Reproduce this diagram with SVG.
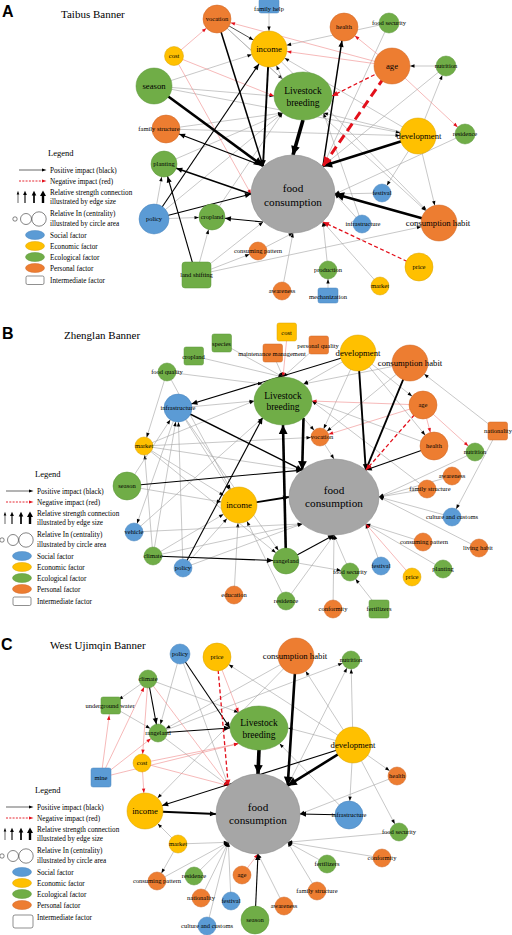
<svg xmlns="http://www.w3.org/2000/svg" width="512" height="935" viewBox="0 0 512 935">
<defs>
<style>
.g{stroke:#a3a3a3;stroke-width:.6;fill:none}
.k0{stroke:#222;stroke-width:.8}
.k1{stroke:#000;stroke-width:1.1}
.k15{stroke:#000;stroke-width:1.5}
.k2{stroke:#000;stroke-width:1.9}
.k3{stroke:#000;stroke-width:2.6}
.k4{stroke:#000;stroke-width:3.6}
.p{stroke:#f08a8a;stroke-width:.6}
.rd{stroke:#e3101b;stroke-width:1.3;stroke-dasharray:4 2.5}
.rd3{stroke:#e3101b;stroke-width:3;stroke-dasharray:9 5}
.bl{fill:#5b9bd5;stroke:#4a85bd;stroke-width:.5}
.ye{fill:#ffc000;stroke:#d8a200;stroke-width:.5}
.gr{fill:#70ad47;stroke:#5a9438;stroke-width:.5}
.or{fill:#ed7d31;stroke:#cf6626;stroke-width:.5}
.fc{fill:#a6a6a6;stroke:#8a8a8a;stroke-width:.6}
.lc{fill:#fff;stroke:#333;stroke-width:.6}
.lr{fill:#fff;stroke:#444;stroke-width:.6}
text{font-family:"Liberation Serif","Times New Roman",serif;fill:#000}
.t{font-size:6.5px;text-anchor:middle}
.tb{font-size:8.7px;text-anchor:middle}
.tl{font-size:9.5px;text-anchor:middle}
.tf{font-size:11.2px;text-anchor:middle}
.lg{font-size:7.2px}
.lh{font-size:8.5px}
.ttl{font-size:11px}
.pl{font-family:"Liberation Sans",Arial,sans-serif;font-weight:bold;font-size:16px}
</style>
<path id="hs" d="M-4.5-1.7L0 0L-4.5 1.7z"/>
<path id="hm" d="M-6-2.6L0 0L-6 2.6z"/>
<path id="hl" d="M-9-4.4L0 0L-9 4.4z"/>
<path id="hrs" d="M-4.5-1.7L0 0L-4.5 1.7z" fill="#e3101b"/>
<path id="hrm" d="M-6-2.6L0 0L-6 2.6z" fill="#e3101b"/>
<path id="hrl" d="M-9-4.4L0 0L-9 4.4z" fill="#e3101b"/>
<marker id="s0" viewBox="-10 -5 40 10" markerWidth="40" markerHeight="10" markerUnits="userSpaceOnUse" orient="auto" refX="0"><use href="#hs"/></marker>
<marker id="s9" viewBox="-10 -5 40 10" markerWidth="40" markerHeight="10" markerUnits="userSpaceOnUse" orient="auto" refX="9"><use href="#hs"/></marker>
<marker id="s10" viewBox="-10 -5 40 10" markerWidth="40" markerHeight="10" markerUnits="userSpaceOnUse" orient="auto" refX="10"><use href="#hs"/></marker>
<marker id="s13" viewBox="-10 -5 40 10" markerWidth="40" markerHeight="10" markerUnits="userSpaceOnUse" orient="auto" refX="13"><use href="#hs"/></marker>
<marker id="s14" viewBox="-10 -5 40 10" markerWidth="40" markerHeight="10" markerUnits="userSpaceOnUse" orient="auto" refX="14"><use href="#hs"/></marker>
<marker id="s18" viewBox="-10 -5 40 10" markerWidth="40" markerHeight="10" markerUnits="userSpaceOnUse" orient="auto" refX="18"><use href="#hs"/></marker>
<marker id="m0" viewBox="-10 -5 40 10" markerWidth="40" markerHeight="10" markerUnits="userSpaceOnUse" orient="auto" refX="0"><use href="#hm"/></marker>
<marker id="m9" viewBox="-10 -5 40 10" markerWidth="40" markerHeight="10" markerUnits="userSpaceOnUse" orient="auto" refX="9"><use href="#hm"/></marker>
<marker id="m13" viewBox="-10 -5 40 10" markerWidth="40" markerHeight="10" markerUnits="userSpaceOnUse" orient="auto" refX="13"><use href="#hm"/></marker>
<marker id="m14" viewBox="-10 -5 40 10" markerWidth="40" markerHeight="10" markerUnits="userSpaceOnUse" orient="auto" refX="14"><use href="#hm"/></marker>
<marker id="m18" viewBox="-10 -5 40 10" markerWidth="40" markerHeight="10" markerUnits="userSpaceOnUse" orient="auto" refX="18"><use href="#hm"/></marker>
<marker id="l0" viewBox="-10 -5 40 10" markerWidth="40" markerHeight="10" markerUnits="userSpaceOnUse" orient="auto" refX="0"><use href="#hl"/></marker>
<marker id="rs0" viewBox="-10 -5 40 10" markerWidth="40" markerHeight="10" markerUnits="userSpaceOnUse" orient="auto" refX="0"><use href="#hrs"/></marker>
<marker id="rs9" viewBox="-10 -5 40 10" markerWidth="40" markerHeight="10" markerUnits="userSpaceOnUse" orient="auto" refX="9"><use href="#hrs"/></marker>
<marker id="rs10" viewBox="-10 -5 40 10" markerWidth="40" markerHeight="10" markerUnits="userSpaceOnUse" orient="auto" refX="10"><use href="#hrs"/></marker>
<marker id="rs14" viewBox="-10 -5 40 10" markerWidth="40" markerHeight="10" markerUnits="userSpaceOnUse" orient="auto" refX="14"><use href="#hrs"/></marker>
<marker id="rs18" viewBox="-10 -5 40 10" markerWidth="40" markerHeight="10" markerUnits="userSpaceOnUse" orient="auto" refX="18"><use href="#hrs"/></marker>
<marker id="rm0" viewBox="-10 -5 40 10" markerWidth="40" markerHeight="10" markerUnits="userSpaceOnUse" orient="auto" refX="0"><use href="#hrm"/></marker>
<marker id="rl0" viewBox="-10 -5 40 10" markerWidth="40" markerHeight="10" markerUnits="userSpaceOnUse" orient="auto" refX="0"><use href="#hrl"/></marker>
</defs>
<rect width="512" height="935" fill="#fff"/>

<!-- ===================== PANEL A ===================== -->
<g id="panelA">
<text x="2" y="17" class="pl">A</text>
<text x="61" y="17.5" class="ttl">Taibus Banner</text>
<g id="A-legend">
<text x="48" y="156" class="lh">Legend</text>
<line x1="19" y1="170" x2="43" y2="170" stroke="#000" stroke-width=".6"/><path d="M42 168.4L46.5 170L42 171.6z"/>
<text x="50" y="172.5" class="lg">Positive impact (black)</text>
<line x1="19" y1="181" x2="43" y2="181" stroke="#e3101b" stroke-width=".9" stroke-dasharray="2 1.3"/><path d="M42 179.4L46.5 181L42 182.6z" fill="#e3101b"/>
<text x="50" y="183.5" class="lg">Negative impact (red)</text>
<path d="M18 203V194" stroke="#000" stroke-width=".6"/><path d="M16.7 194.5L18 190.8L19.3 194.5z"/>
<path d="M25 203V194.5" stroke="#000" stroke-width="1.1"/><path d="M23.1 195L25 190.8L26.9 195z"/>
<path d="M34 203V195" stroke="#000" stroke-width="1.7"/><path d="M31.7 195.5L34 190.8L36.3 195.5z"/>
<path d="M43 203V195.5" stroke="#000" stroke-width="2.4"/><path d="M40 196L43 190.5L46 196z"/>
<text x="50" y="195" class="lg">Relative strength connection</text>
<text x="50" y="204" class="lg">illustrated by edge size</text>
<circle cx="15" cy="219" r="2.2" class="lc"/><circle cx="26" cy="219" r="5.5" class="lc"/><circle cx="39" cy="219" r="7.2" class="lc"/>
<text x="50" y="215.5" class="lg">Relative In (centrality)</text>
<text x="50" y="225.5" class="lg">illustrated by circle area</text>
<ellipse cx="35" cy="235" rx="9.5" ry="4.5" class="bl"/><text x="50" y="237.5" class="lg">Social factor</text>
<ellipse cx="35" cy="246" rx="9.5" ry="4.5" class="ye"/><text x="50" y="248.5" class="lg">Economic factor</text>
<ellipse cx="35" cy="257" rx="9.5" ry="4.5" class="gr"/><text x="50" y="259.5" class="lg">Ecological factor</text>
<ellipse cx="35" cy="268" rx="9.5" ry="4.5" class="or"/><text x="50" y="270.5" class="lg">Personal factor</text>
<rect x="26" y="276" width="18" height="8.5" rx="1.5" class="lr"/><text x="50" y="282.5" class="lg">Intermediate factor</text>
</g>
<g id="A-connectors">
<line x1="269" y1="6" x2="269" y2="49" class="g" marker-end="url(#s18)"/>
<line x1="154" y1="86" x2="269" y2="49" class="g" marker-end="url(#s18)"/>
<line x1="154" y1="86" x2="274" y2="96" class="g" marker-end="url(#s0)"/>
<line x1="154" y1="86" x2="418" y2="136" class="g" marker-end="url(#s18)"/>
<line x1="389" y1="23" x2="269" y2="49" class="g" marker-end="url(#s18)"/>
<line x1="446" y1="66" x2="392" y2="66" class="g" marker-end="url(#s18)"/>
<line x1="418" y1="136" x2="446" y2="66" class="g" marker-end="url(#s10)"/>
<line x1="418" y1="136" x2="269" y2="49" class="g" marker-end="url(#s18)"/>
<line x1="418" y1="136" x2="439" y2="223" class="g" marker-end="url(#s18)"/>
<line x1="418" y1="136" x2="382" y2="193" class="g" marker-end="url(#s9)"/>
<line x1="465" y1="134" x2="335" y2="194" class="g" marker-end="url(#s0)"/>
<line x1="382" y1="193" x2="335" y2="194" class="g" marker-end="url(#s0)"/>
<line x1="362" y1="224" x2="335" y2="194" class="g" marker-end="url(#s0)"/>
<line x1="380" y1="286" x2="323" y2="222" class="g" marker-end="url(#s0)"/>
<line x1="328" y1="270" x2="323" y2="222" class="g" marker-end="url(#s0)"/>
<line x1="328" y1="295" x2="328" y2="270" class="g" marker-end="url(#s9)"/>
<line x1="282" y1="291" x2="293" y2="233" class="g" marker-end="url(#s0)"/>
<line x1="258" y1="251" x2="293" y2="233" class="g" marker-end="url(#s0)"/>
<line x1="196" y1="275" x2="212" y2="217" class="g" marker-end="url(#s13)"/>
<line x1="196" y1="275" x2="258" y2="251" class="g" marker-end="url(#s9)"/>
<line x1="196" y1="275" x2="439" y2="223" class="g" marker-end="url(#s18)"/>
<line x1="154" y1="219" x2="212" y2="217" class="g" marker-end="url(#s13)"/>
<line x1="154" y1="219" x2="164" y2="164" class="g" marker-end="url(#s13)"/>
<line x1="164" y1="164" x2="282.5" y2="113" class="g" marker-end="url(#s0)"/>
<line x1="212" y1="217" x2="282.5" y2="113" class="g" marker-end="url(#s0)"/>
<line x1="217" y1="19" x2="282.5" y2="79" class="g" marker-end="url(#s0)"/>
<line x1="166" y1="129" x2="282.5" y2="113" class="g" marker-end="url(#s0)"/>
<line x1="166" y1="129" x2="418" y2="136" class="g" marker-end="url(#s18)"/>
<line x1="389" y1="23" x2="323" y2="166" class="g" marker-end="url(#s0)"/>
<line x1="446" y1="66" x2="323" y2="166" class="g" marker-end="url(#s0)"/>
<line x1="418" y1="136" x2="323.5" y2="113" class="g" marker-end="url(#s0)"/>
<line x1="282.5" y1="79" x2="269" y2="49" class="g" marker-end="url(#s18)"/>
<line x1="217" y1="19" x2="439" y2="223" class="g" marker-end="url(#s18)"/>
<line x1="362" y1="224" x2="323.5" y2="113" class="g" marker-end="url(#s0)"/>
<line x1="269" y1="49" x2="439" y2="223" class="g" marker-end="url(#s18)"/>
<line x1="154" y1="219" x2="282.5" y2="113" class="g" marker-end="url(#s0)"/>
<line x1="196" y1="275" x2="263" y2="222" class="g" marker-end="url(#s0)"/>
<line x1="174" y1="56" x2="217" y2="19" class="p" marker-end="url(#rs14)"/>
<line x1="174" y1="56" x2="251" y2="194" class="p" marker-end="url(#rs0)"/>
<line x1="174" y1="56" x2="274" y2="96" class="p" marker-end="url(#rs0)"/>
<line x1="392" y1="66" x2="269" y2="49" class="p" marker-end="url(#rs18)"/>
<line x1="392" y1="66" x2="217" y2="19" class="p" marker-end="url(#rs14)"/>
<line x1="392" y1="66" x2="465" y2="134" class="p" marker-end="url(#rs10)"/>
<line x1="392" y1="66" x2="344" y2="27" class="p" marker-end="url(#rs14)"/>
<line x1="217" y1="19" x2="269" y2="49" class="k0" marker-end="url(#s18)"/>
<line x1="196" y1="275" x2="164" y2="164" class="k1" marker-end="url(#m13)"/>
<line x1="154" y1="219" x2="269" y2="49" class="k1" marker-end="url(#m18)"/>
<line x1="263" y1="222" x2="212" y2="217" class="k1" marker-end="url(#m13)"/>
<line x1="263" y1="166" x2="166" y2="129" class="k1" marker-end="url(#m14)"/>
<line x1="154" y1="219" x2="251" y2="194" class="k1" marker-end="url(#m0)"/>
<line x1="251" y1="194" x2="164" y2="164" class="k15" marker-end="url(#m13)"/>
<line x1="323" y1="166" x2="344" y2="27" class="k15" marker-end="url(#m14)"/>
<line x1="217" y1="19" x2="263" y2="166" class="k15" marker-end="url(#m0)"/>
<line x1="269" y1="49" x2="263" y2="166" class="k2" marker-end="url(#m0)"/>
<line x1="154" y1="86" x2="263" y2="166" class="k3" marker-end="url(#l0)"/>
<line x1="418" y1="136" x2="323" y2="166" class="k3" marker-end="url(#l0)"/>
<line x1="439" y1="223" x2="335" y2="194" class="k3" marker-end="url(#l0)"/>
<line x1="303" y1="120" x2="293" y2="155" class="k4" marker-end="url(#l0)"/>
<line x1="392" y1="66" x2="332" y2="96" class="rd" marker-end="url(#rm0)"/>
<line x1="419" y1="267" x2="323" y2="222" class="rd" marker-end="url(#rm0)"/>
<line x1="392" y1="66" x2="323" y2="166" class="rd3" marker-end="url(#rl0)"/>
</g>
<g id="A-vocation"><circle cx="217" cy="19" r="14" class="or"/><text x="217" y="21.2" class="t">vocation</text></g>
<g id="A-cost"><circle cx="174" cy="56" r="9.5" class="ye"/><text x="174" y="58.2" class="t">cost</text></g>
<g id="A-season"><circle cx="154" cy="86" r="18" class="gr"/><text x="154" y="89" class="tb">season</text></g>
<g id="A-family-structure"><circle cx="166" cy="129" r="14" class="or"/><text x="159" y="131.2" class="t">family structure</text></g>
<g id="A-family-help"><rect x="259" y="-1" width="20" height="14" rx="2" class="bl"/><text x="269" y="11" class="t">family help</text></g>
<g id="A-income"><circle cx="269" cy="49" r="18" class="ye"/><text x="269" y="52" class="tb">income</text></g>
<g id="A-health"><circle cx="344" cy="27" r="14" class="or"/><text x="344" y="29.2" class="t">health</text></g>
<g id="A-food-security"><circle cx="389" cy="23" r="10" class="gr"/><text x="389" y="25.2" class="t">food security</text></g>
<g id="A-age"><circle cx="392" cy="66" r="18" class="or"/><text x="392" y="69" class="tb">age</text></g>
<g id="A-nutrition"><circle cx="446" cy="66" r="10" class="gr"/><text x="446" y="68.2" class="t">nutrition</text></g>
<g id="A-livestock"><ellipse cx="303" cy="96" rx="29" ry="24" class="gr"/><text x="303" y="94" class="tl">Livestock</text><text x="303" y="105.5" class="tl">breeding</text></g>
<g id="A-development"><circle cx="418" cy="136" r="18" class="ye"/><text x="419" y="139" class="tb">development</text></g>
<g id="A-residence"><circle cx="465" cy="134" r="10" class="gr"/><text x="465" y="136.2" class="t">residence</text></g>
<g id="A-food-consumption"><ellipse cx="293" cy="194" rx="42" ry="39" class="fc"/><text x="293" y="192" class="tf">food</text><text x="293" y="205.5" class="tf">consumption</text></g>
<g id="A-festival"><circle cx="382" cy="193" r="9" class="bl"/><text x="382" y="195.2" class="t">festival</text></g>
<g id="A-infrastructure"><circle cx="362" cy="224" r="9" class="bl"/><text x="363" y="226.2" class="t">infrastructure</text></g>
<g id="A-consumption-habit"><circle cx="439" cy="223" r="18" class="or"/><text x="438" y="226" class="tb">consumption habit</text></g>
<g id="A-price"><circle cx="419" cy="267" r="14" class="ye"/><text x="419" y="269.2" class="t">price</text></g>
<g id="A-market"><circle cx="380" cy="286" r="9" class="ye"/><text x="380" y="288.2" class="t">market</text></g>
<g id="A-production"><circle cx="328" cy="270" r="9" class="gr"/><text x="328" y="272.2" class="t">production</text></g>
<g id="A-mechanization"><rect x="318" y="288" width="20" height="15" rx="2" class="bl"/><text x="328" y="298.5" class="t">mechanization</text></g>
<g id="A-awareness"><circle cx="282" cy="291" r="9" class="or"/><text x="282" y="293.2" class="t">awareness</text></g>
<g id="A-consuming-pattern"><circle cx="258" cy="251" r="9" class="or"/><text x="258" y="253.2" class="t">consuming pattern</text></g>
<g id="A-land-shifting"><rect x="182" y="262" width="29" height="26" rx="3" class="gr"/><text x="196.5" y="277" class="t">land shifting</text></g>
<g id="A-cropland"><circle cx="212" cy="217" r="13" class="gr"/><text x="212" y="219.2" class="t">cropland</text></g>
<g id="A-policy"><circle cx="154" cy="219" r="15" class="bl"/><text x="154" y="221.2" class="t">policy</text></g>
<g id="A-planting"><circle cx="164" cy="164" r="13" class="gr"/><text x="164" y="166.2" class="t">planting</text></g>
</g>

<!-- ===================== PANEL B ===================== -->
<g id="panelB">
<text x="2" y="339" class="pl">B</text>
<text x="64" y="339" class="ttl">Zhenglan Banner</text>
<g id="B-legend" transform="translate(-13,321)">
<text x="48" y="156" class="lh">Legend</text>
<line x1="19" y1="170" x2="43" y2="170" stroke="#000" stroke-width=".6"/><path d="M42 168.4L46.5 170L42 171.6z"/>
<text x="50" y="172.5" class="lg">Positive impact (black)</text>
<line x1="19" y1="181" x2="43" y2="181" stroke="#e3101b" stroke-width=".9" stroke-dasharray="2 1.3"/><path d="M42 179.4L46.5 181L42 182.6z" fill="#e3101b"/>
<text x="50" y="183.5" class="lg">Negative impact (red)</text>
<path d="M18 203V194" stroke="#000" stroke-width=".6"/><path d="M16.7 194.5L18 190.8L19.3 194.5z"/>
<path d="M25 203V194.5" stroke="#000" stroke-width="1.1"/><path d="M23.1 195L25 190.8L26.9 195z"/>
<path d="M34 203V195" stroke="#000" stroke-width="1.7"/><path d="M31.7 195.5L34 190.8L36.3 195.5z"/>
<path d="M43 203V195.5" stroke="#000" stroke-width="2.4"/><path d="M40 196L43 190.5L46 196z"/>
<text x="50" y="195" class="lg">Relative strength connection</text>
<text x="50" y="204" class="lg">illustrated by edge size</text>
<circle cx="15" cy="219" r="2.2" class="lc"/><circle cx="26" cy="219" r="5.5" class="lc"/><circle cx="39" cy="219" r="7.2" class="lc"/>
<text x="50" y="215.5" class="lg">Relative In (centrality)</text>
<text x="50" y="225.5" class="lg">illustrated by circle area</text>
<ellipse cx="35" cy="235" rx="9.5" ry="4.5" class="bl"/><text x="50" y="237.5" class="lg">Social factor</text>
<ellipse cx="35" cy="246" rx="9.5" ry="4.5" class="ye"/><text x="50" y="248.5" class="lg">Economic factor</text>
<ellipse cx="35" cy="257" rx="9.5" ry="4.5" class="gr"/><text x="50" y="259.5" class="lg">Ecological factor</text>
<ellipse cx="35" cy="268" rx="9.5" ry="4.5" class="or"/><text x="50" y="270.5" class="lg">Personal factor</text>
<rect x="26" y="276" width="18" height="8.5" rx="1.5" class="lr"/><text x="50" y="282.5" class="lg">Intermediate factor</text>
</g>
<g id="B-connectors">
<line x1="221.5" y1="343" x2="283" y2="377" class="g" marker-end="url(#s0)"/>
<line x1="193.5" y1="356" x2="283" y2="377" class="g" marker-end="url(#s0)"/>
<line x1="272.5" y1="353" x2="283" y2="377" class="g" marker-end="url(#s0)"/>
<line x1="318.5" y1="345" x2="283" y2="377" class="g" marker-end="url(#s0)"/>
<line x1="167" y1="372" x2="144" y2="446" class="g" marker-end="url(#s9)"/>
<line x1="167" y1="372" x2="262.5" y2="384" class="g" marker-end="url(#s0)"/>
<line x1="167" y1="372" x2="239" y2="505" class="g" marker-end="url(#s18)"/>
<line x1="358" y1="353" x2="423" y2="405" class="g" marker-end="url(#s14)"/>
<line x1="497.5" y1="431" x2="410" y2="363" class="g" marker-end="url(#s18)"/>
<line x1="497.5" y1="431" x2="452" y2="517" class="g" marker-end="url(#s9)"/>
<line x1="144" y1="446" x2="302.2" y2="470.1" class="g" marker-end="url(#s0)"/>
<line x1="144" y1="446" x2="320" y2="437" class="g" marker-end="url(#s9)"/>
<line x1="144" y1="446" x2="239" y2="505" class="g" marker-end="url(#s18)"/>
<line x1="153" y1="556" x2="178" y2="408" class="g" marker-end="url(#s14)"/>
<line x1="153" y1="556" x2="144" y2="446" class="g" marker-end="url(#s9)"/>
<line x1="183" y1="568" x2="178" y2="408" class="g" marker-end="url(#s14)"/>
<line x1="178" y1="408" x2="134" y2="532" class="g" marker-end="url(#s9)"/>
<line x1="127" y1="486" x2="239" y2="505" class="g" marker-end="url(#s18)"/>
<line x1="127" y1="486" x2="178" y2="408" class="g" marker-end="url(#s14)"/>
<line x1="234" y1="595" x2="239" y2="505" class="g" marker-end="url(#s18)"/>
<line x1="286" y1="601" x2="239" y2="505" class="g" marker-end="url(#s18)"/>
<line x1="286" y1="601" x2="334" y2="535" class="g" marker-end="url(#s0)"/>
<line x1="333" y1="609" x2="334" y2="535" class="g" marker-end="url(#s0)"/>
<line x1="379" y1="609" x2="350" y2="572" class="g" marker-end="url(#s9)"/>
<line x1="350" y1="572" x2="334" y2="535" class="g" marker-end="url(#s0)"/>
<line x1="381" y1="566" x2="365.8" y2="523.9" class="g" marker-end="url(#s0)"/>
<line x1="443" y1="569" x2="365.8" y2="523.9" class="g" marker-end="url(#s0)"/>
<line x1="423" y1="542" x2="365.8" y2="523.9" class="g" marker-end="url(#s0)"/>
<line x1="479" y1="548" x2="379" y2="497" class="g" marker-end="url(#s0)"/>
<line x1="452" y1="517" x2="379" y2="497" class="g" marker-end="url(#s0)"/>
<line x1="427" y1="489" x2="379" y2="497" class="g" marker-end="url(#s0)"/>
<line x1="452" y1="476" x2="379" y2="497" class="g" marker-end="url(#s0)"/>
<line x1="475" y1="452" x2="379" y2="497" class="g" marker-end="url(#s0)"/>
<line x1="320" y1="437" x2="334" y2="459" class="g" marker-end="url(#s0)"/>
<line x1="358" y1="353" x2="320" y2="437" class="g" marker-end="url(#s9)"/>
<line x1="303.5" y1="418" x2="320" y2="437" class="g" marker-end="url(#s9)"/>
<line x1="358" y1="353" x2="303.5" y2="384" class="g" marker-end="url(#s0)"/>
<line x1="183" y1="568" x2="239" y2="505" class="g" marker-end="url(#s18)"/>
<line x1="183" y1="568" x2="302.2" y2="523.9" class="g" marker-end="url(#s0)"/>
<line x1="134" y1="532" x2="302.2" y2="523.9" class="g" marker-end="url(#s0)"/>
<line x1="286" y1="561" x2="350" y2="572" class="g" marker-end="url(#s9)"/>
<line x1="178" y1="408" x2="254" y2="401" class="g" marker-end="url(#s0)"/>
<line x1="144" y1="446" x2="254" y2="401" class="g" marker-end="url(#s0)"/>
<line x1="153" y1="556" x2="239" y2="505" class="g" marker-end="url(#s18)"/>
<line x1="134" y1="532" x2="262.5" y2="418" class="g" marker-end="url(#s0)"/>
<line x1="434" y1="446" x2="312" y2="401" class="g" marker-end="url(#s0)"/>
<line x1="410" y1="363" x2="303.5" y2="384" class="g" marker-end="url(#s0)"/>
<line x1="427" y1="489" x2="312" y2="401" class="g" marker-end="url(#s0)"/>
<line x1="410" y1="363" x2="320" y2="437" class="g" marker-end="url(#s9)"/>
<line x1="178" y1="408" x2="239" y2="505" class="g" marker-end="url(#s18)"/>
<line x1="358" y1="353" x2="434" y2="446" class="g" marker-end="url(#s14)"/>
<line x1="144" y1="446" x2="286" y2="561" class="g" marker-end="url(#s13)"/>
<line x1="178" y1="408" x2="286" y2="561" class="g" marker-end="url(#s13)"/>
<line x1="153" y1="556" x2="302.2" y2="523.9" class="g" marker-end="url(#s0)"/>
<line x1="423" y1="405" x2="434" y2="446" class="p" marker-end="url(#rs14)"/>
<line x1="423" y1="405" x2="475" y2="452" class="p" marker-end="url(#rs9)"/>
<line x1="423" y1="405" x2="312" y2="401" class="p" marker-end="url(#rs0)"/>
<line x1="423" y1="405" x2="320" y2="437" class="p" marker-end="url(#rs9)"/>
<line x1="286.5" y1="341" x2="283" y2="377" class="p" marker-end="url(#rs0)"/>
<line x1="412" y1="577" x2="365.8" y2="523.9" class="p" marker-end="url(#rs0)"/>
<line x1="358" y1="353" x2="178" y2="408" class="k1" marker-end="url(#m14)"/>
<line x1="178" y1="408" x2="302.2" y2="470.1" class="k15" marker-end="url(#m0)"/>
<line x1="127" y1="486" x2="302.2" y2="470.1" class="k1" marker-end="url(#m0)"/>
<line x1="239" y1="505" x2="289" y2="497" class="k2" marker-end="url(#m0)"/>
<line x1="286" y1="561" x2="334" y2="535" class="k1" marker-end="url(#m0)"/>
<line x1="153" y1="556" x2="286" y2="561" class="k1" marker-end="url(#m13)"/>
<line x1="183" y1="568" x2="262.5" y2="418" class="k1" marker-end="url(#m0)"/>
<line x1="434" y1="446" x2="365.8" y2="470.1" class="k1" marker-end="url(#m0)"/>
<line x1="358" y1="353" x2="365.8" y2="470.1" class="k2" marker-end="url(#m0)"/>
<line x1="410" y1="363" x2="365.8" y2="470.1" class="k2" marker-end="url(#m0)"/>
<line x1="286" y1="561" x2="283" y2="425" class="k3" marker-end="url(#l0)"/>
<line x1="303.5" y1="418" x2="302.2" y2="470.1" class="k3" marker-end="url(#l0)"/>
<line x1="423" y1="405" x2="365.8" y2="470.1" class="rd" marker-end="url(#rm0)"/>
</g>
<g id="B-cost"><rect x="277" y="323" width="19.5" height="18" rx="2" class="ye"/><text x="286.5" y="334.5" class="t">cost</text></g>
<g id="B-species"><rect x="212" y="334" width="19.5" height="18" rx="2" class="gr"/><text x="221.5" y="345.5" class="t">species</text></g>
<g id="B-cropland"><rect x="184" y="347" width="19.5" height="18" rx="2" class="gr"/><text x="193.5" y="358.5" class="t">cropland</text></g>
<g id="B-maintenance"><rect x="263" y="344" width="19.5" height="18" rx="2" class="or"/><text x="272" y="355.5" class="t">maintenance management</text></g>
<g id="B-personal-quality"><rect x="309" y="336" width="19.5" height="18" rx="2" class="or"/><text x="318" y="347.5" class="t">personal quality</text></g>
<g id="B-development"><circle cx="358" cy="353" r="18" class="ye"/><text x="358" y="356" class="tb">development</text></g>
<g id="B-consumption-habit"><circle cx="410" cy="363" r="18" class="or"/><text x="410" y="366" class="tb">consumption habit</text></g>
<g id="B-food-quality"><circle cx="167" cy="372" r="9" class="gr"/><text x="167" y="374.2" class="t">food quality</text></g>
<g id="B-infrastructure"><circle cx="178" cy="408" r="14" class="bl"/><text x="178" y="410.2" class="t">infrastructure</text></g>
<g id="B-livestock"><ellipse cx="283" cy="401" rx="29" ry="24" class="gr"/><text x="283" y="398.5" class="tl">Livestock</text><text x="283" y="410" class="tl">breeding</text></g>
<g id="B-age"><circle cx="423" cy="405" r="14" class="or"/><text x="423" y="407.2" class="t">age</text></g>
<g id="B-nationality"><rect x="488" y="422" width="19.5" height="18" rx="2" class="or"/><text x="498" y="433" class="t">nationality</text></g>
<g id="B-vocation"><circle cx="320" cy="437" r="9" class="or"/><text x="322" y="439.2" class="t">vocation</text></g>
<g id="B-health"><circle cx="434" cy="446" r="14" class="or"/><text x="434" y="448.2" class="t">health</text></g>
<g id="B-market"><circle cx="144" cy="446" r="9" class="ye"/><text x="144" y="448.2" class="t">market</text></g>
<g id="B-nutrition"><circle cx="475" cy="452" r="9" class="gr"/><text x="475" y="454.2" class="t">nutrition</text></g>
<g id="B-season"><circle cx="127" cy="486" r="14" class="gr"/><text x="127" y="488.2" class="t">season</text></g>
<g id="B-income"><circle cx="239" cy="505" r="18" class="ye"/><text x="239" y="508" class="tb">income</text></g>
<g id="B-food-consumption"><ellipse cx="334" cy="497" rx="45" ry="38" class="fc"/><text x="334" y="494" class="tf">food</text><text x="334" y="506.5" class="tf">consumption</text></g>
<g id="B-awareness"><circle cx="452" cy="476" r="9" class="or"/><text x="452" y="478.2" class="t">awareness</text></g>
<g id="B-family-structure"><circle cx="427" cy="489" r="9" class="or"/><text x="430" y="491.2" class="t">family structure</text></g>
<g id="B-culture"><circle cx="452" cy="517" r="9" class="bl"/><text x="452" y="519.2" class="t">culture and customs</text></g>
<g id="B-consuming-pattern"><circle cx="423" cy="542" r="9" class="or"/><text x="424" y="544.2" class="t">consuming pattern</text></g>
<g id="B-living-habit"><circle cx="479" cy="548" r="9" class="or"/><text x="478" y="550.2" class="t">living habit</text></g>
<g id="B-vehicle"><circle cx="134" cy="532" r="9" class="bl"/><text x="134" y="534.2" class="t">vehicle</text></g>
<g id="B-climate"><circle cx="153" cy="556" r="9" class="gr"/><text x="153" y="558.2" class="t">climate</text></g>
<g id="B-policy"><circle cx="183" cy="568" r="9" class="bl"/><text x="183" y="570.2" class="t">policy</text></g>
<g id="B-rangeland"><circle cx="286" cy="561" r="13" class="gr"/><text x="286" y="563.2" class="t">rangeland</text></g>
<g id="B-food-security"><circle cx="350" cy="572" r="9" class="gr"/><text x="350" y="574.2" class="t">food security</text></g>
<g id="B-festival"><circle cx="381" cy="566" r="9" class="bl"/><text x="381" y="568.2" class="t">festival</text></g>
<g id="B-price"><circle cx="412" cy="577" r="9" class="ye"/><text x="412" y="579.2" class="t">price</text></g>
<g id="B-planting"><circle cx="443" cy="569" r="9" class="gr"/><text x="443" y="571.2" class="t">planting</text></g>
<g id="B-education"><circle cx="234" cy="595" r="9" class="or"/><text x="234" y="597.2" class="t">education</text></g>
<g id="B-residence"><circle cx="286" cy="601" r="9" class="gr"/><text x="286" y="603.2" class="t">residence</text></g>
<g id="B-conformity"><circle cx="333" cy="609" r="9" class="or"/><text x="333" y="611.2" class="t">conformity</text></g>
<g id="B-fertilizers"><rect x="369" y="600" width="20" height="18" rx="2" class="gr"/><text x="379" y="611" class="t">fertilizers</text></g>
</g>

<!-- ===================== PANEL C ===================== -->
<g id="panelC">
<text x="1" y="650" class="pl">C</text>
<text x="50" y="649" class="ttl">West Ujimqin Banner</text>
<g id="C-legend" transform="translate(-13,637)">
<text x="48" y="156" class="lh">Legend</text>
<line x1="19" y1="170" x2="43" y2="170" stroke="#000" stroke-width=".6"/><path d="M42 168.4L46.5 170L42 171.6z"/>
<text x="50" y="172.5" class="lg">Positive impact (black)</text>
<line x1="19" y1="181" x2="43" y2="181" stroke="#e3101b" stroke-width=".9" stroke-dasharray="2 1.3"/><path d="M42 179.4L46.5 181L42 182.6z" fill="#e3101b"/>
<text x="50" y="183.5" class="lg">Negative impact (red)</text>
<path d="M18 203V194" stroke="#000" stroke-width=".6"/><path d="M16.7 194.5L18 190.8L19.3 194.5z"/>
<path d="M25 203V194.5" stroke="#000" stroke-width="1.1"/><path d="M23.1 195L25 190.8L26.9 195z"/>
<path d="M34 203V195" stroke="#000" stroke-width="1.7"/><path d="M31.7 195.5L34 190.8L36.3 195.5z"/>
<path d="M43 203V195.5" stroke="#000" stroke-width="2.4"/><path d="M40 196L43 190.5L46 196z"/>
<text x="50" y="195" class="lg">Relative strength connection</text>
<text x="50" y="204" class="lg">illustrated by edge size</text>
<circle cx="15" cy="219" r="2.2" class="lc"/><circle cx="26" cy="219" r="5.5" class="lc"/><circle cx="39" cy="219" r="7.2" class="lc"/>
<text x="50" y="215.5" class="lg">Relative In (centrality)</text>
<text x="50" y="225.5" class="lg">illustrated by circle area</text>
<ellipse cx="35" cy="235" rx="9.5" ry="4.5" class="bl"/><text x="50" y="237.5" class="lg">Social factor</text>
<ellipse cx="35" cy="246" rx="9.5" ry="4.5" class="ye"/><text x="50" y="248.5" class="lg">Economic factor</text>
<ellipse cx="35" cy="257" rx="9.5" ry="4.5" class="gr"/><text x="50" y="259.5" class="lg">Ecological factor</text>
<ellipse cx="35" cy="268" rx="9.5" ry="4.5" class="or"/><text x="50" y="270.5" class="lg">Personal factor</text>
<rect x="26" y="278" width="20" height="13" rx="2" class="lr"/><text x="50" y="282.5" class="lg">Intermediate factor</text>
</g>
<g id="C-connectors">
<line x1="148" y1="679" x2="110.5" y2="705.5" class="g" marker-end="url(#s10)"/>
<line x1="110.5" y1="705.5" x2="158" y2="733" class="g" marker-end="url(#s9)"/>
<line x1="148" y1="679" x2="238.5" y2="712.4" class="g" marker-end="url(#s0)"/>
<line x1="180" y1="654" x2="158" y2="733" class="g" marker-end="url(#s9)"/>
<line x1="180" y1="654" x2="228.3" y2="785.7" class="g" marker-end="url(#s0)"/>
<line x1="353" y1="745" x2="217" y2="657" class="g" marker-end="url(#s14)"/>
<line x1="353" y1="745" x2="296" y2="656" class="g" marker-end="url(#s18)"/>
<line x1="353" y1="745" x2="351" y2="660" class="g" marker-end="url(#s9)"/>
<line x1="353" y1="745" x2="288" y2="728" class="g" marker-end="url(#s0)"/>
<line x1="158" y1="733" x2="351" y2="660" class="g" marker-end="url(#s9)"/>
<line x1="296" y1="656" x2="158" y2="733" class="g" marker-end="url(#s9)"/>
<line x1="296" y1="656" x2="145" y2="811" class="g" marker-end="url(#s18)"/>
<line x1="353" y1="745" x2="397" y2="776" class="g" marker-end="url(#s9)"/>
<line x1="353" y1="745" x2="399" y2="832" class="g" marker-end="url(#s9)"/>
<line x1="353" y1="745" x2="349" y2="815" class="g" marker-end="url(#s14)"/>
<line x1="397" y1="776" x2="300" y2="814" class="g" marker-end="url(#s0)"/>
<line x1="178" y1="844" x2="145" y2="811" class="g" marker-end="url(#s18)"/>
<line x1="178" y1="844" x2="228.3" y2="842.3" class="g" marker-end="url(#s0)"/>
<line x1="178" y1="844" x2="157" y2="881" class="g" marker-end="url(#s9)"/>
<line x1="157" y1="881" x2="228.3" y2="842.3" class="g" marker-end="url(#s0)"/>
<line x1="194" y1="876" x2="228.3" y2="842.3" class="g" marker-end="url(#s0)"/>
<line x1="201" y1="898" x2="228.3" y2="842.3" class="g" marker-end="url(#s0)"/>
<line x1="231" y1="901" x2="228.3" y2="842.3" class="g" marker-end="url(#s0)"/>
<line x1="207" y1="926" x2="228.3" y2="842.3" class="g" marker-end="url(#s0)"/>
<line x1="284" y1="906" x2="258" y2="854" class="g" marker-end="url(#s0)"/>
<line x1="317" y1="891" x2="287.7" y2="842.3" class="g" marker-end="url(#s0)"/>
<line x1="327" y1="864" x2="287.7" y2="842.3" class="g" marker-end="url(#s0)"/>
<line x1="382" y1="858" x2="287.7" y2="842.3" class="g" marker-end="url(#s0)"/>
<line x1="399" y1="832" x2="287.7" y2="842.3" class="g" marker-end="url(#s0)"/>
<line x1="158" y1="733" x2="228.3" y2="785.7" class="g" marker-end="url(#s0)"/>
<line x1="287.7" y1="785.7" x2="351" y2="660" class="g" marker-end="url(#s9)"/>
<line x1="349" y1="815" x2="279.5" y2="743.6" class="g" marker-end="url(#s0)"/>
<line x1="217" y1="657" x2="238.5" y2="712.4" class="p" marker-end="url(#rs0)"/>
<line x1="101" y1="777.5" x2="148" y2="679" class="p" marker-end="url(#rs9)"/>
<line x1="101" y1="777.5" x2="110.5" y2="705.5" class="p" marker-end="url(#rs10)"/>
<line x1="101" y1="777.5" x2="158" y2="733" class="p" marker-end="url(#rs9)"/>
<line x1="148" y1="679" x2="142" y2="763" class="p" marker-end="url(#rs9)"/>
<line x1="142" y1="763" x2="145" y2="811" class="p" marker-end="url(#rs18)"/>
<line x1="142" y1="763" x2="228.3" y2="785.7" class="p" marker-end="url(#rs0)"/>
<line x1="142" y1="763" x2="238.5" y2="743.6" class="p" marker-end="url(#rs0)"/>
<line x1="101" y1="777.5" x2="238.5" y2="743.6" class="p" marker-end="url(#rs0)"/>
<line x1="242" y1="875" x2="258" y2="854" class="p" marker-end="url(#rs0)"/>
<line x1="148" y1="679" x2="228.3" y2="785.7" class="p" marker-end="url(#rs0)"/>
<line x1="145" y1="811" x2="216" y2="814" class="k2" marker-end="url(#m0)"/>
<line x1="353" y1="745" x2="145" y2="811" class="k1" marker-end="url(#m18)"/>
<line x1="349" y1="815" x2="300" y2="814" class="k1" marker-end="url(#m0)"/>
<line x1="255" y1="920" x2="258" y2="854" class="k1" marker-end="url(#m0)"/>
<line x1="180" y1="654" x2="230" y2="728" class="k1" marker-end="url(#m0)"/>
<line x1="158" y1="733" x2="230" y2="728" class="k1" marker-end="url(#m0)"/>
<line x1="148" y1="679" x2="158" y2="733" class="k1" marker-end="url(#m9)"/>
<line x1="296" y1="656" x2="287.7" y2="785.7" class="k3" marker-end="url(#l0)"/>
<line x1="353" y1="745" x2="287.7" y2="785.7" class="k3" marker-end="url(#l0)"/>
<line x1="259" y1="750" x2="258" y2="774" class="k4" marker-end="url(#l0)"/>
<line x1="217" y1="657" x2="228.3" y2="785.7" class="rd" marker-end="url(#rm0)"/>
</g>
<g id="C-policy"><circle cx="180" cy="654" r="10" class="bl"/><text x="180" y="656.2" class="t">policy</text></g>
<g id="C-price"><circle cx="217" cy="657" r="14" class="ye"/><text x="217" y="659.2" class="t">price</text></g>
<g id="C-consumption-habit"><circle cx="296" cy="656" r="18" class="or"/><text x="295" y="659" class="tb">consumption habit</text></g>
<g id="C-nutrition"><circle cx="351" cy="660" r="9" class="gr"/><text x="351" y="662.2" class="t">nutrition</text></g>
<g id="C-climate"><circle cx="148" cy="679" r="9" class="gr"/><text x="148" y="681.2" class="t">climate</text></g>
<g id="C-underground-water"><rect x="101" y="697" width="19.5" height="17" rx="2" class="gr"/><text x="110" y="708" class="t">underground water</text></g>
<g id="C-rangeland"><circle cx="158" cy="733" r="9" class="gr"/><text x="158" y="735.2" class="t">rangeland</text></g>
<g id="C-livestock"><ellipse cx="259" cy="728" rx="29" ry="22" class="gr"/><text x="259" y="725.5" class="tl">Livestock</text><text x="259" y="737.5" class="tl">breeding</text></g>
<g id="C-development"><circle cx="353" cy="745" r="18" class="ye"/><text x="353" y="748" class="tb">development</text></g>
<g id="C-cost"><circle cx="142" cy="763" r="9" class="ye"/><text x="142" y="765.2" class="t">cost</text></g>
<g id="C-health"><circle cx="397" cy="776" r="9" class="or"/><text x="397" y="778.2" class="t">health</text></g>
<g id="C-mine"><rect x="91" y="768" width="20" height="19" rx="2" class="bl"/><text x="101" y="779.5" class="t">mine</text></g>
<g id="C-income"><circle cx="145" cy="811" r="18" class="ye"/><text x="145" y="814" class="tb">income</text></g>
<g id="C-food-consumption"><ellipse cx="258" cy="814" rx="42" ry="40" class="fc"/><text x="258" y="811" class="tf">food</text><text x="258" y="824" class="tf">consumption</text></g>
<g id="C-infrastructure"><circle cx="349" cy="815" r="14" class="bl"/><text x="349" y="817.2" class="t">infrastructure</text></g>
<g id="C-food-security"><circle cx="399" cy="832" r="9" class="gr"/><text x="399" y="834.2" class="t">food security</text></g>
<g id="C-market"><circle cx="178" cy="844" r="9" class="ye"/><text x="178" y="846.2" class="t">market</text></g>
<g id="C-conformity"><circle cx="382" cy="858" r="9" class="or"/><text x="382" y="860.2" class="t">conformity</text></g>
<g id="C-fertilizers"><circle cx="327" cy="864" r="9" class="gr"/><text x="327" y="866.2" class="t">fertilizers</text></g>
<g id="C-age"><circle cx="242" cy="875" r="9" class="or"/><text x="242" y="877.2" class="t">age</text></g>
<g id="C-residence"><circle cx="194" cy="876" r="9" class="gr"/><text x="194" y="878.2" class="t">residence</text></g>
<g id="C-consuming-pattern"><circle cx="157" cy="881" r="9" class="or"/><text x="157" y="883.2" class="t">consuming pattern</text></g>
<g id="C-family-structure"><circle cx="317" cy="891" r="9" class="or"/><text x="317" y="893.2" class="t">family structure</text></g>
<g id="C-nationality"><circle cx="201" cy="898" r="9" class="or"/><text x="201" y="900.2" class="t">nationality</text></g>
<g id="C-festival"><circle cx="231" cy="901" r="9" class="bl"/><text x="231" y="903.2" class="t">festival</text></g>
<g id="C-awareness"><circle cx="284" cy="906" r="9" class="or"/><text x="284" y="908.2" class="t">awareness</text></g>
<g id="C-season"><circle cx="255" cy="920" r="14" class="gr"/><text x="255" y="922.2" class="t">season</text></g>
<g id="C-culture"><circle cx="207" cy="926" r="9" class="bl"/><text x="207" y="928.2" class="t">culture and customs</text></g>
</g>
</svg>
